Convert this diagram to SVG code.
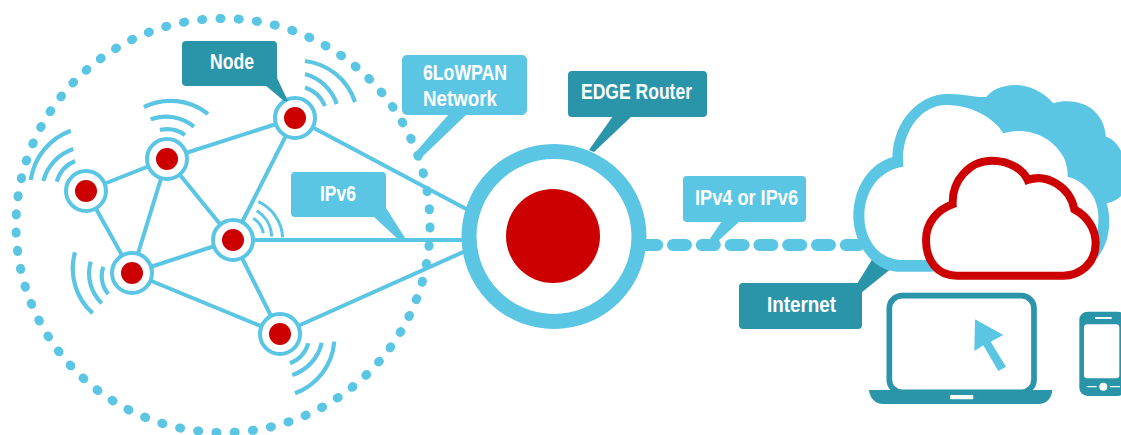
<svg xmlns="http://www.w3.org/2000/svg" width="1121" height="435" viewBox="0 0 1121 435">
<style>
.lt{fill:#5bc5e4}.tl{fill:#2a94a8}
.e{stroke:#5bc5e4;stroke-width:4;fill:none}
.w{stroke:#5bc5e4;stroke-width:4.2;fill:none}
.ring{fill:#fff;stroke:#5bc5e4;stroke-width:4}
.core{fill:#cc0000}
text{font-family:"Liberation Sans Narrow","Liberation Sans",Arial,sans-serif;font-weight:700;font-size:22px;fill:#fff}
</style>
<rect width="1121" height="435" fill="#fff"/>
<g id="connectors">
<circle cx="223" cy="225.5" r="207" pathLength="71" fill="none" stroke="#5bc5e4" stroke-width="9" stroke-linecap="round" stroke-dasharray="0.06 0.94" stroke-dashoffset="-0.08"/>
<path class="e" d="M86 191L167 159M167 159L295 118M86 191L132 273M167 159L132 273M167 159L233 240M295 118L233 240M132 273L233 240M132 273L280 334M233 240L280 334M295 118L470 211M233 240H470M280 334L470 249"/>
<path d="M644.2 245H862" fill="none" stroke="#5bc5e4" stroke-width="12" stroke-linecap="round" stroke-dasharray="13 15.8"/>
</g>
<g id="signals">
<path class="w" d="M305 87.5A33 33 0 0 1 325 106M305 74A46 46 0 0 1 336.7 104M305 61A60 60 0 0 1 355 102"/>
<path class="w" d="M160 130A30 30 0 0 1 185 135M150.7 119.3A44 44 0 0 1 194 126.7M144 107A60 60 0 0 1 208 114"/>
<path class="w" d="M75 161A32 32 0 0 0 56.7 181.7M73.3 149A46 46 0 0 0 43.3 181M70.7 130.7A62 62 0 0 0 30.7 180"/>
<path class="w" style="stroke-width:3" d="M253.3 218.3A22 22 0 0 1 263.3 233.3M256.7 210.7A32 32 0 0 1 271.7 236.7M258.3 201.7A42 42 0 0 1 282.7 237.3"/>
<path class="w" d="M103.3 266.7A28 28 0 0 0 108.3 294M90.7 261.7A42 42 0 0 0 101.7 303.3M75 252.3A60 60 0 0 0 92.7 313.3"/>
<path class="w" d="M308.3 343.3A30 30 0 0 1 290 363.3M321.7 342.7A44 44 0 0 1 292.3 375M334.3 341.7A60 60 0 0 1 295 393.3"/>
</g>
<g id="node-1"><circle class="ring" cx="86" cy="191" r="20"/><circle class="core" cx="86" cy="191" r="11"/></g>
<g id="node-2"><circle class="ring" cx="167" cy="159" r="20"/><circle class="core" cx="167" cy="159" r="11"/></g>
<g id="node-3"><circle class="ring" cx="295" cy="118" r="20"/><circle class="core" cx="295" cy="118" r="11"/></g>
<g id="node-4"><circle class="ring" cx="233" cy="240" r="20"/><circle class="core" cx="233" cy="240" r="11"/></g>
<g id="node-5"><circle class="ring" cx="132" cy="273" r="20"/><circle class="core" cx="132" cy="273" r="11"/></g>
<g id="node-6"><circle class="ring" cx="280" cy="334" r="20"/><circle class="core" cx="280" cy="334" r="11"/></g>
<g id="edge-router"><circle cx="554" cy="236.5" r="85" fill="#fff" stroke="#5bc5e4" stroke-width="15"/><circle class="core" cx="553" cy="236" r="47"/></g>
<g id="label-node"><path class="tl" d="M265 85L277 78L288 101L284 101Z"/><rect class="tl" x="182" y="41" width="95" height="45" rx="4"/><text x="210" y="69" textLength="44" lengthAdjust="spacingAndGlyphs">Node</text></g>
<g id="label-6lowpan"><path class="lt" d="M449 114L467 114L421 158L415 153Z"/><rect class="lt" x="402" y="55" width="125" height="60" rx="5"/><text x="423" y="80" textLength="84" lengthAdjust="spacingAndGlyphs">6LoWPAN</text><text x="423" y="106" textLength="74" lengthAdjust="spacingAndGlyphs">Network</text></g>
<g id="label-edge"><path class="tl" d="M613 116L632 116L594 152L589 150Z"/><rect class="tl" x="568" y="71" width="139" height="46" rx="4"/><text x="581" y="99" textLength="111" lengthAdjust="spacingAndGlyphs">EDGE Router</text></g>
<g id="label-ipv6"><path class="lt" d="M373 216L386 208L407 241L400 241Z"/><rect class="lt" x="291" y="172" width="95" height="45" rx="4"/><text x="320" y="201" textLength="36" lengthAdjust="spacingAndGlyphs">IPv6</text></g>
<g id="label-ipv4"><path class="lt" d="M722 221L740 221L716 243L707 243Z"/><rect class="lt" x="683" y="176" width="123" height="46" rx="4"/><text x="695" y="205" textLength="103" lengthAdjust="spacingAndGlyphs">IPv4 or IPv6</text></g>
<g id="label-internet"><path class="tl" d="M857 284L873 258L892 268L861 293Z"/><rect class="tl" x="739" y="283" width="123" height="46" rx="4"/><text x="767" y="312" textLength="69" lengthAdjust="spacingAndGlyphs">Internet</text></g>
<g id="internet" transform="translate(730 70) scale(.33333)">
<path class="lt" d="M600 605L500 605C420 600 370 510 370 440C370 350 420 280 487 262C490 150 570 72 650 72C700 70 740 85 770 80C800 40 900 20 970 100C1040 80 1120 110 1128 200C1160 210 1173 240 1180 260L1180 370C1165 390 1150 395 1130 400C1145 450 1140 520 1100 565Z"/>
<path fill="#fff" d="M600 570L510 570C440 565 403 500 403 440C403 360 450 300 520 290C510 190 570 105 650 105C720 105 790 140 820 190C880 170 960 190 1000 260C1010 280 1015 310 1012 320C1060 330 1110 380 1105 450C1105 500 1090 560 1060 590Z"/>
<path fill="#fff" stroke="#cc0000" stroke-width="24" d="M680 617C620 617 588 570 588 510C588 460 620 420 668 403C665 330 720 272 785 272C840 272 880 300 893 330C950 310 1020 350 1033 418C1075 440 1097 480 1097 520C1097 580 1050 617 1000 617Z"/>
</g>
<g id="laptop" transform="translate(730 70) scale(.33333)">
<rect x="478" y="677" width="434" height="290" rx="38" fill="#fff" stroke="#2a94a8" stroke-width="17"/>
<path class="tl" d="M417 960H967C965 985 950 1002 925 1002H460C435 1002 420 985 417 960Z"/>
<rect x="660" y="975" width="70" height="13" rx="3" fill="#fff"/>
<path class="lt" d="M735 748L820 795L782 815L828 890L805 903L760 826L733 843Z"/>
</g>
<g id="phone" transform="translate(730 70) scale(.33333)">
<rect class="tl" x="1048" y="725" width="140" height="253" rx="25"/>
<rect x="1062" y="763" width="106" height="162" rx="10" fill="#fff"/>
<rect x="1095" y="741" width="50" height="6" fill="#fff"/>
<circle cx="1120" cy="950" r="12" fill="#fff"/>
<path d="M1070 950H1100M1140 950H1170" stroke="#fff" stroke-width="4"/>
</g>
</svg>
